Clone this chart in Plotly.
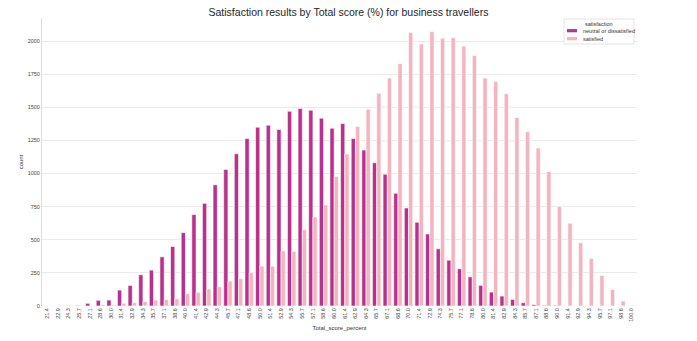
import plotly.graph_objects as go

categories = ["21.4", "22.9", "24.3", "25.7", "27.1", "28.6", "30.0", "31.4", "32.9", "34.3",
              "35.7", "37.1", "38.6", "40.0", "41.4", "42.9", "44.3", "45.7", "47.1", "48.6",
              "50.0", "51.4", "52.9", "54.3", "55.7", "57.1", "58.6", "60.0", "61.4", "62.9",
              "64.3", "65.7", "67.1", "68.6", "70.0", "71.4", "72.9", "74.3", "75.7", "77.1",
              "78.6", "80.0", "81.4", "82.9", "84.3", "85.7", "87.1", "88.6", "90.0", "91.4",
              "92.9", "94.3", "95.7", "97.1", "98.6", "100.0"]

neutral_or_dissatisfied = [0, 0, 2, 3, 20, 43, 45, 120, 155, 236,
                           271, 371, 449, 554, 690, 775, 915, 1031, 1149, 1264,
                           1350, 1365, 1332, 1470, 1490, 1478, 1418, 1342, 1377, 1265,
                           1177, 1081, 994, 851, 740, 632, 544, 432, 346, 281,
                           220, 156, 105, 75, 50, 25, 10, 5, 5, 0,
                           0, 0, 0, 0, 0, 0]

satisfied = [0, 0, 5, 5, 0, 10, 8, 20, 25, 33,
             45, 48, 55, 93, 103, 128, 145, 188, 206, 251,
             301, 301, 416, 411, 577, 672, 763, 978, 1147, 1355,
             1485, 1606, 1721, 1829, 2065, 1977, 2070, 2022, 2025, 1962,
             1890, 1721, 1694, 1603, 1423, 1315, 1192, 1014, 750, 625,
             477, 359, 231, 125, 38, 5]

series_names = ["neutral or dissatisfied", "satisfied"]
legend_title = "satisfaction"
colors = ["#b8318a", "#f3b4c1"]

fig = go.Figure()
for name, vals, col in zip(series_names, [neutral_or_dissatisfied, satisfied], colors):
    fig.add_trace(go.Bar(
        x=categories, y=vals, name=name,
        marker=dict(color=col, line=dict(color="white", width=0.6)),
    ))

font_family = "Liberation Sans, Arial, sans-serif"
fig.update_layout(
    width=697, height=341,
    margin=dict(l=42, r=60, t=18, b=35),
    paper_bgcolor="white", plot_bgcolor="white",
    barmode="group", bargap=0.2, bargroupgap=0,
    font=dict(family=font_family, size=6, color="#333333"),
    title=dict(text="Satisfaction results by Total score (%) for business travellers",
               x=0.5, xanchor="center", y=0.965, yanchor="middle",
               font=dict(size=10.5, color="#262626")),
    showlegend=False,
)

# compact legend drawn in paper coordinates (plot area spans x 42..637, y 18..306 px)
def px_x(px):
    return (px - 42) / 595.0

def px_y(py):
    return (306 - py) / 288.0

fig.add_shape(type="rect", xref="paper", yref="paper",
              x0=px_x(564), x1=px_x(634), y0=px_y(44), y1=px_y(19),
              fillcolor="white", line=dict(color="#dddddd", width=0.8), layer="above")
fig.add_annotation(text=legend_title, xref="paper", yref="paper",
                   x=px_x(599), y=px_y(24), showarrow=False,
                   xanchor="center", yanchor="middle",
                   font=dict(size=5.5, color="#333333"))
for i, (name, col) in enumerate(zip(series_names, colors)):
    cy = 30.7 + 8 * i
    fig.add_shape(type="rect", xref="paper", yref="paper",
                  x0=px_x(567), x1=px_x(577), y0=px_y(cy + 1.6), y1=px_y(cy - 1.6),
                  fillcolor=col, line=dict(width=0), layer="above")
    fig.add_annotation(text=name, xref="paper", yref="paper",
                       x=px_x(580.5), y=px_y(cy), showarrow=False,
                       xanchor="left", yanchor="middle",
                       font=dict(size=5.5, color="#333333"))

fig.update_xaxes(
    type="category", tickangle=-90, showgrid=False, showline=False,
    ticks="", tickfont=dict(size=5.5, color="#444444"),
    title=dict(text="Total_score_percent", font=dict(size=6, color="#333333"), standoff=4),
)
fig.update_yaxes(
    range=[0, 2174], tickvals=[0, 250, 500, 750, 1000, 1250, 1500, 1750, 2000],
    showgrid=True, gridcolor="#ebebeb", gridwidth=1,
    showline=True, linecolor="#dddddd", linewidth=1,
    zeroline=False, ticks="", tickfont=dict(size=5.5, color="#444444"),
    title=dict(text="count", font=dict(size=6, color="#333333"), standoff=3),
)

fig.write_html("out.html")
